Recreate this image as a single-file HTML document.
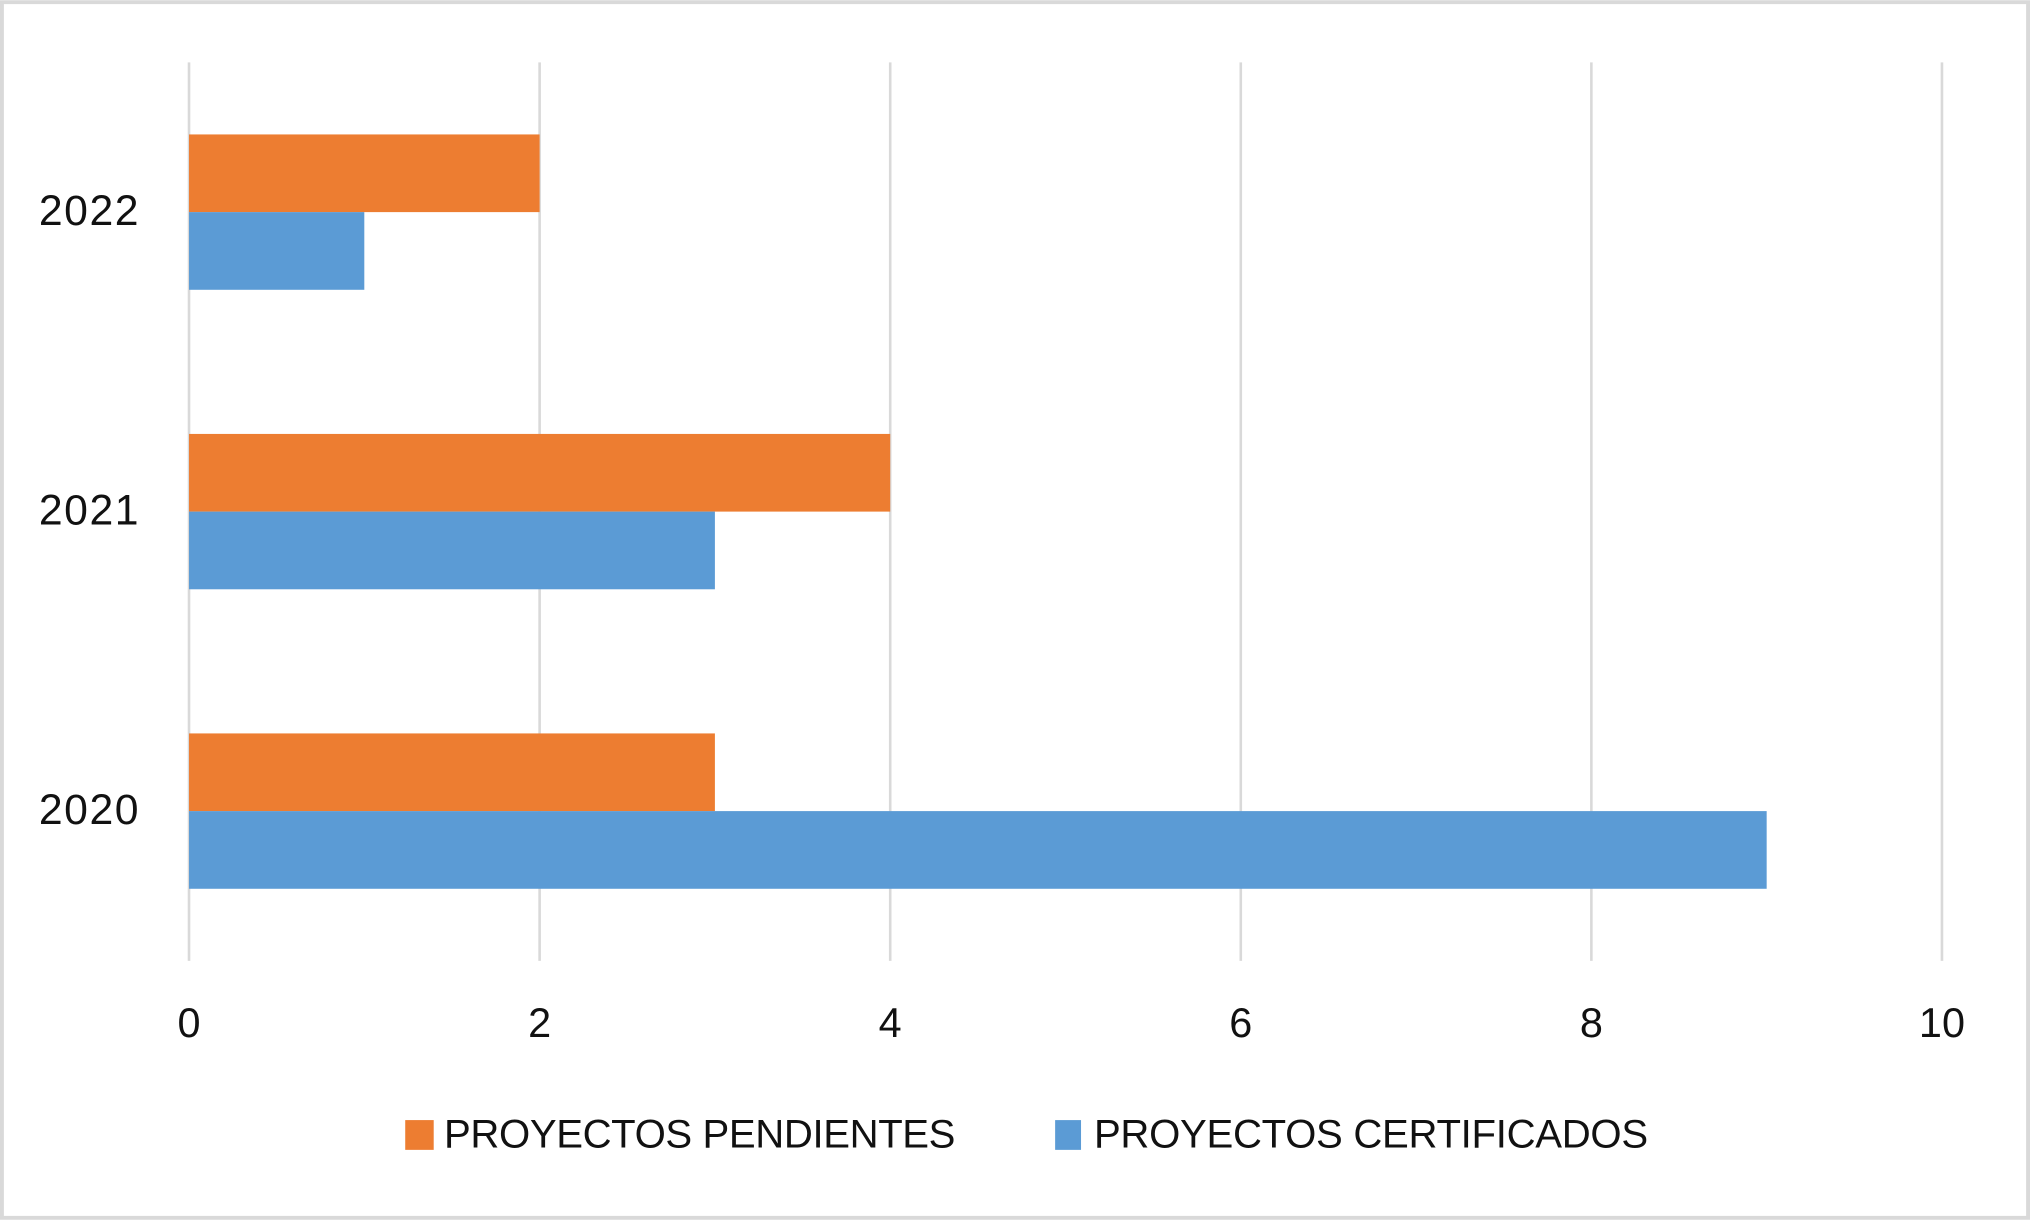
<!DOCTYPE html>
<html><head><meta charset="utf-8"><style>
html,body{margin:0;padding:0;background:#fff}
svg{display:block}
text{font-family:"Liberation Sans",sans-serif;fill:#111}
</style></head><body>
<svg id="chart" width="2030" height="1220" viewBox="0 0 1568 942" xmlns="http://www.w3.org/2000/svg">
<rect x="1.5" y="1.5" width="1565" height="939" fill="#fff" stroke="#d9d9d9" stroke-width="3"/>
<g id="grid"></g><g id="bars"></g><g id="labels"></g>
<g>
<rect x="313" y="865" width="22" height="23" fill="#ed7d31"/>
<text x="343" y="886" font-size="31" textLength="395">PROYECTOS PENDIENTES</text>
<rect x="815" y="865" width="20" height="23" fill="#5b9bd5"/>
<text x="845" y="886" font-size="31" textLength="428">PROYECTOS CERTIFICADOS</text>
</g>
</svg>
<script>
const categories=['2022','2021','2020'];
const pendientes=[2,4,3];
const certificados=[1,3,9];
const ticks=[0,2,4,6,8,10];
const NS='http://www.w3.org/2000/svg';
const x0=146,x1=1500,yTop=48,yBot=742;
const xs=v=>x0+(x1-x0)*v/10;
const band=(yBot-yTop)/categories.length;
function mk(t,a,p){const e=document.createElementNS(NS,t);for(const k in a)e.setAttribute(k,a[k]);p.appendChild(e);return e;}
const g=document.getElementById('grid'),b=document.getElementById('bars'),l=document.getElementById('labels');
ticks.forEach(t=>{
 const ln=mk('line',{x1:xs(t),x2:xs(t),y1:yTop,y2:yBot,stroke:'#d9d9d9','stroke-width':2},g);
 
 
 const tx=mk('text',{x:xs(t),y:801,'font-size':32,'text-anchor':'middle'},l);
 tx.textContent=t;
 
 
});
categories.forEach((c,i)=>{
 const cy=yTop+band*(i+0.5);
 const h=60;
 const r1=mk('rect',{x:xs(0),y:cy-h,width:xs(pendientes[i])-xs(0),height:h,fill:'#ed7d31'},b);
 
 
 const r2=mk('rect',{x:xs(0),y:cy,width:xs(certificados[i])-xs(0),height:h,fill:'#5b9bd5'},b);
 
 
 const tx=mk('text',{x:107,y:cy+10,'font-size':33,'text-anchor':'end',textLength:77},l);
 tx.textContent=c;
 
 
});
</script>
</body></html>
